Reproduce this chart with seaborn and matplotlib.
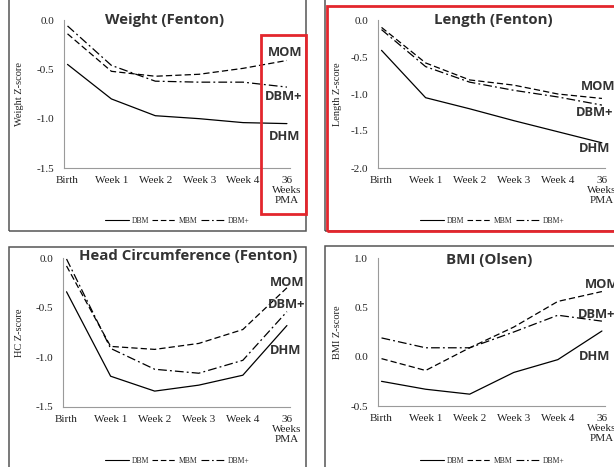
import pandas as pd
import matplotlib
matplotlib.use('Agg')
import matplotlib.pyplot as plt
from matplotlib.patches import Rectangle
from matplotlib.lines import Line2D
import seaborn as sns

# ---- data (z-scores) ----
timepoints = ['Birth', 'Week 1', 'Week 2', 'Week 3', 'Week 4', '36\nWeeks\nPMA']
groups = ['DBM', 'MBM', 'DBM+']

weight_dbm = [-0.45, -0.80, -0.97, -1.00, -1.04, -1.05]
weight_mbm = [-0.14, -0.52, -0.57, -0.55, -0.49, -0.41]
weight_dbmplus = [-0.06, -0.46, -0.62, -0.63, -0.63, -0.68]

length_dbm = [-0.41, -1.05, -1.20, -1.36, -1.51, -1.66]
length_mbm = [-0.10, -0.58, -0.81, -0.88, -1.00, -1.06]
length_dbmplus = [-0.13, -0.63, -0.84, -0.95, -1.04, -1.15]

hc_dbm = [-0.34, -1.19, -1.34, -1.28, -1.18, -0.68]
hc_mbm = [-0.08, -0.89, -0.92, -0.86, -0.72, -0.30]
hc_dbmplus = [-0.01, -0.91, -1.12, -1.16, -1.03, -0.54]

bmi_dbm = [-0.25, -0.33, -0.38, -0.16, -0.03, 0.26]
bmi_mbm = [-0.02, -0.14, 0.09, 0.30, 0.56, 0.66]
bmi_dbmplus = [0.19, 0.09, 0.09, 0.25, 0.42, 0.36]

W, H = 614, 467
SERIF = 'Liberation Serif'
SANS = 'Open Sans'
DASHES = {'DBM': '', 'MBM': (5, 2.5), 'DBM+': (7, 2.5, 1.5, 2.5)}


def fx(px):
    return px / W


def fy(py):
    return 1 - py / H


def long_df(dbm, mbm, dbmp):
    rows = []
    for g, vals in zip(groups, [dbm, mbm, dbmp]):
        for i, v in enumerate(vals):
            rows.append({'pos': i, 'z': v, 'group': g})
    return pd.DataFrame(rows)


sns.set_style('white')
plt.rcParams['font.family'] = [SERIF, 'DejaVu Sans']

fig = plt.figure(figsize=(W / 100, H / 100), dpi=100)

panels = [
    # (series, ylim, yticks, ylabel, box l,r,t,b, title, title pos)
    ((weight_dbm, weight_mbm, weight_dbmplus), (-1.5, 0.0), [0.0, -0.5, -1.0, -1.5],
     'Weight Z-score', (64, 290, 20, 168), 'Weight (Fenton)', (165, 20)),
    ((length_dbm, length_mbm, length_dbmplus), (-2.0, 0.0), [0.0, -0.5, -1.0, -1.5, -2.0],
     'Length Z-score', (378, 605, 20, 168), 'Length (Fenton)', (493, 20)),
    ((hc_dbm, hc_mbm, hc_dbmplus), (-1.5, 0.0), [0.0, -0.5, -1.0, -1.5],
     'HC Z-score', (63, 290, 258, 407), 'Head Circumference (Fenton)', (188, 256)),
    ((bmi_dbm, bmi_mbm, bmi_dbmplus), (-0.5, 1.0), [1.0, 0.5, 0.0, -0.5],
     'BMI Z-score', (378, 605, 258, 406), 'BMI (Olsen)', (489, 260)),
]

legend_y = [221, 221, 461, 461]

for k, (series, ylim, yticks, ylabel, box, title, tpos) in enumerate(panels):
    l, r, t, b = box
    ax = fig.add_axes([fx(l), fy(b), (r - l) / W, (b - t) / H])
    df = long_df(*series)
    sns.lineplot(data=df, x='pos', y='z', style='group', dashes=DASHES,
                 color='black', linewidth=0.9, legend=False, ax=ax)
    ax.set_xlim(-0.08, 5.07)
    ax.set_ylim(*ylim)
    ax.set_yticks(yticks)
    ax.set_yticklabels([f'{v:.1f}' for v in yticks])
    ax.set_xticks(range(len(timepoints)))
    ax.set_xticklabels(timepoints, linespacing=1.15)
    ax.set_xlabel('')
    ax.set_ylabel('')
    for s in ['top', 'right']:
        ax.spines[s].set_visible(False)
    for s in ['left', 'bottom']:
        ax.spines[s].set_color('#9a9a9a')
        ax.spines[s].set_linewidth(0.8)
    ax.tick_params(axis='both', colors='#9a9a9a', labelcolor='#222222',
                   labelsize=8, length=3, width=0.8, direction='out', pad=3)
    ax.tick_params(axis='y', length=4)
    ax.patch.set_alpha(0)

    cx = 20 if l < 300 else 337
    fig.text(fx(cx), fy((t + b) / 2), ylabel, rotation=90, ha='center',
             va='center', fontsize=7.5, color='#222222', family=SERIF)
    fig.text(fx(tpos[0]), fy(tpos[1]), title, ha='center', va='center',
             fontsize=10.8, fontweight='bold', color='#333333', family=SANS)

    handles = [Line2D([0], [0], color='black', lw=0.8,
                      linestyle='-' if g == 'DBM' else (0, DASHES[g])) for g in groups]
    lcx = 177 if l < 300 else 492
    fig.legend(handles, groups, loc='center', bbox_to_anchor=(fx(lcx), fy(legend_y[k])),
               ncol=3, frameon=False, handlelength=3.2,
               handletextpad=0.3, columnspacing=0.4, borderpad=0,
               prop={'family': SERIF, 'size': 5.5})

# group labels at the right of each panel
ann = {
    0: [('MOM', 285, 52), ('DBM+', 284, 96), ('DHM', 285, 136)],
    1: [('MOM', 581, 87), ('DBM+', 576, 113), ('DHM', 579, 149)],
    2: [('MOM', 287, 282), ('DBM+', 287, 304), ('DHM', 286, 350)],
    3: [('MOM', 585, 284), ('DBM+', 578, 315), ('DHM', 579, 357)],
}
for k, items in ann.items():
    for txt, x, y in items:
        fig.text(fx(x), fy(y), txt, ha='center' if k in (0, 2) else 'left',
                 va='center', fontsize=9.3, fontweight='bold', color='#333333',
                 family=SANS)

# panel frames
for (x0, x1, y0, y1) in [(9, 306, -5, 231), (325, 620, -5, 231),
                         (9, 306, 247, 475), (325, 620, 246, 475)]:
    fig.add_artist(Rectangle((fx(x0), fy(y1)), (x1 - x0) / W, (y1 - y0) / H,
                             transform=fig.transFigure, fill=False,
                             edgecolor='#555555', lw=1.1))

# red highlight boxes
for (x0, x1, y0, y1) in [(261, 306, 35, 214), (327, 620, 6, 231)]:
    fig.add_artist(Rectangle((fx(x0), fy(y1)), (x1 - x0) / W, (y1 - y0) / H,
                             transform=fig.transFigure, fill=False,
                             edgecolor='#e3262d', lw=2.0))

fig.savefig('out.png', dpi=100)
